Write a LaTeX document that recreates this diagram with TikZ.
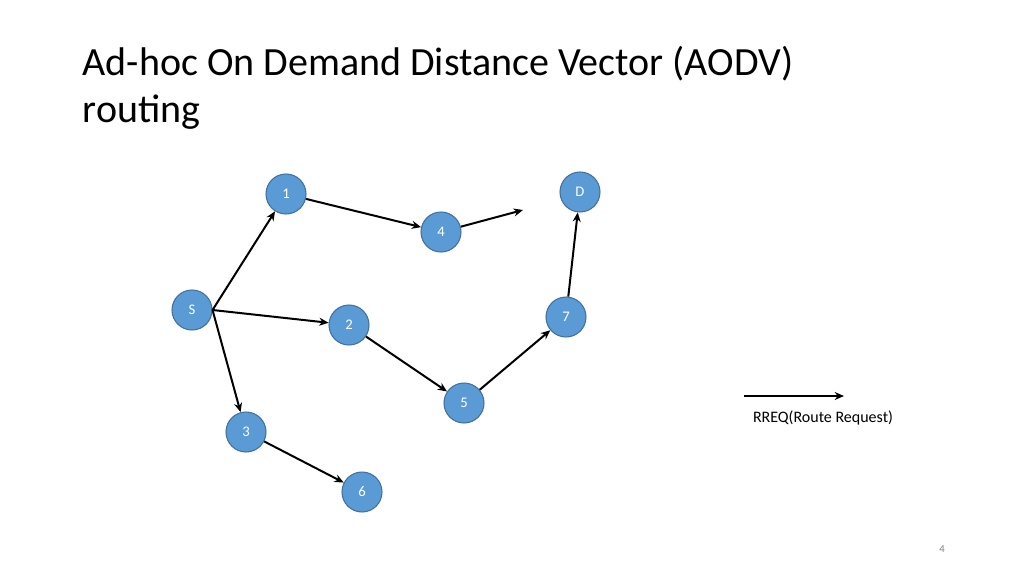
\documentclass[tikz,border=0pt]{standalone}
\usepackage{fontspec}
\setmainfont{Carlito}
\usetikzlibrary{arrows.meta}
\definecolor{nodefill}{HTML}{5B9BD5}
\definecolor{nodeline}{HTML}{41719C}
\begin{document}
\begin{tikzpicture}[x=0.75pt,y=-0.75pt,
  nd/.style={circle,fill=nodefill,draw=nodeline,line width=0.8pt,minimum size=30pt,inner sep=0pt,text=white,font=\fontsize{11}{13}\selectfont},
  edge/.style={-{Stealth[length=7pt,width=6pt]},line width=1.5pt,black}]
\useasboundingbox (0,0) rectangle (1024,576);
\node[anchor=base west,font=\fontsize{30}{36}\selectfont] (t1) at (78,75) {Ad-hoc On Demand Distance Vector (AODV)};
\node[anchor=base west,font=\fontsize{30}{36}\selectfont] (t2) at (78,122) {routing};
\node[nd] (n1) at (286,194) {1};
\node[nd] (n4) at (441,232) {4};
\node[nd] (nD) at (580,192) {D};
\node[nd] (nS) at (192,310) {S};
\node[nd] (n2) at (349,325) {2};
\node[nd] (n7) at (566,317) {7};
\node[nd] (n5) at (464,403) {5};
\node[nd] (n3) at (246,432) {3};
\node[nd] (n6) at (362,492) {6};
\coordinate (f4) at (523,210);
\coordinate (la) at (744,396);
\coordinate (lb) at (844,396);
\draw[edge] (nS.east) -- (n1);
\draw[edge] (n1) -- (n4);
\draw[edge] (n4) -- (f4);
\draw[edge] (nS.east) -- (n2);
\draw[edge] (nS.east) -- (n3);
\draw[edge] (n2) -- (n5);
\draw[edge] (n5) -- (n7);
\draw[edge] (n7) -- (nD);
\draw[edge] (n3) -- (n6);
\draw[edge] (la) -- (lb);
\node[font=\fontsize{12}{14}\selectfont] (leg) at (823,418) {RREQ(Route Request)};
\node[font=\fontsize{8}{10}\selectfont,text=gray] (pg) at (942,549) {4};
\end{tikzpicture}
\end{document}
